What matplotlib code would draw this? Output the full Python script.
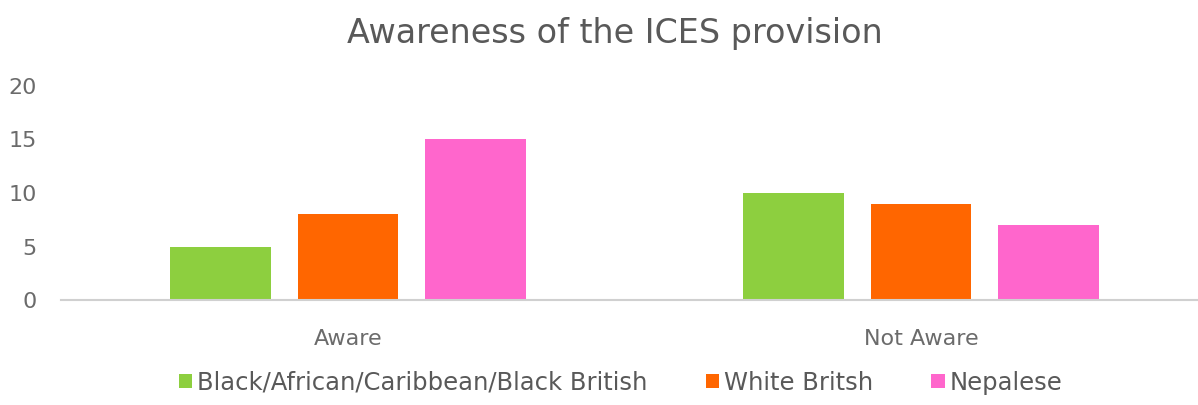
import matplotlib
matplotlib.use("Agg")
import matplotlib.pyplot as plt
import numpy as np

categories = ["Aware", "Not Aware"]
series_names = ["Black/African/Caribbean/Black British", "White Britsh", "Nepalese"]
black_african = [5, 10]
white_british = [8, 9]
nepalese = [15, 7]
colors = ["#8DCF3F", "#FF6600", "#FF66CC"]
yticks = [0, 5, 10, 15, 20]

plt.rcParams['font.family'] = ['DejaVu Sans']
fig = plt.figure(figsize=(11.98, 4.05), dpi=100)
ax = fig.add_axes([0.0513, 0.259, 0.9566, 0.529])

x = np.arange(len(categories))
width = 0.176
offset = 0.222
series = [black_african, white_british, nepalese]
for i, (vals, name, c) in enumerate(zip(series, series_names, colors)):
    ax.bar(x + (i - 1) * offset, vals, width, color=c, label=name)

ax.set_xlim(-0.5, 1.5)
ax.set_ylim(0, 20)
ax.set_yticks(yticks)
ax.set_xticks(x)
ax.set_xticklabels(categories)
for s in ["top", "right", "left"]:
    ax.spines[s].set_visible(False)
ax.spines["bottom"].set_color("#D0D0D0")
ax.spines["bottom"].set_linewidth(1.5)
ax.tick_params(axis="both", length=0, colors="#6b6b6b", labelsize=16)
ax.tick_params(axis="x", pad=21)
ax.tick_params(axis="y", pad=18)

fig.text(0.513, 0.918, "Awareness of the ICES provision", ha="center", va="center",
         fontsize=24, color="#595959")

leg = fig.legend(loc="center", bbox_to_anchor=(0.518, 0.055), ncol=3, frameon=False,
                 fontsize=17.5, handlelength=0.55, handleheight=0.55, handletextpad=0.2,
                 columnspacing=2.4)
for t in leg.get_texts():
    t.set_color("#595959")

fig.savefig("out.png", dpi=100)
